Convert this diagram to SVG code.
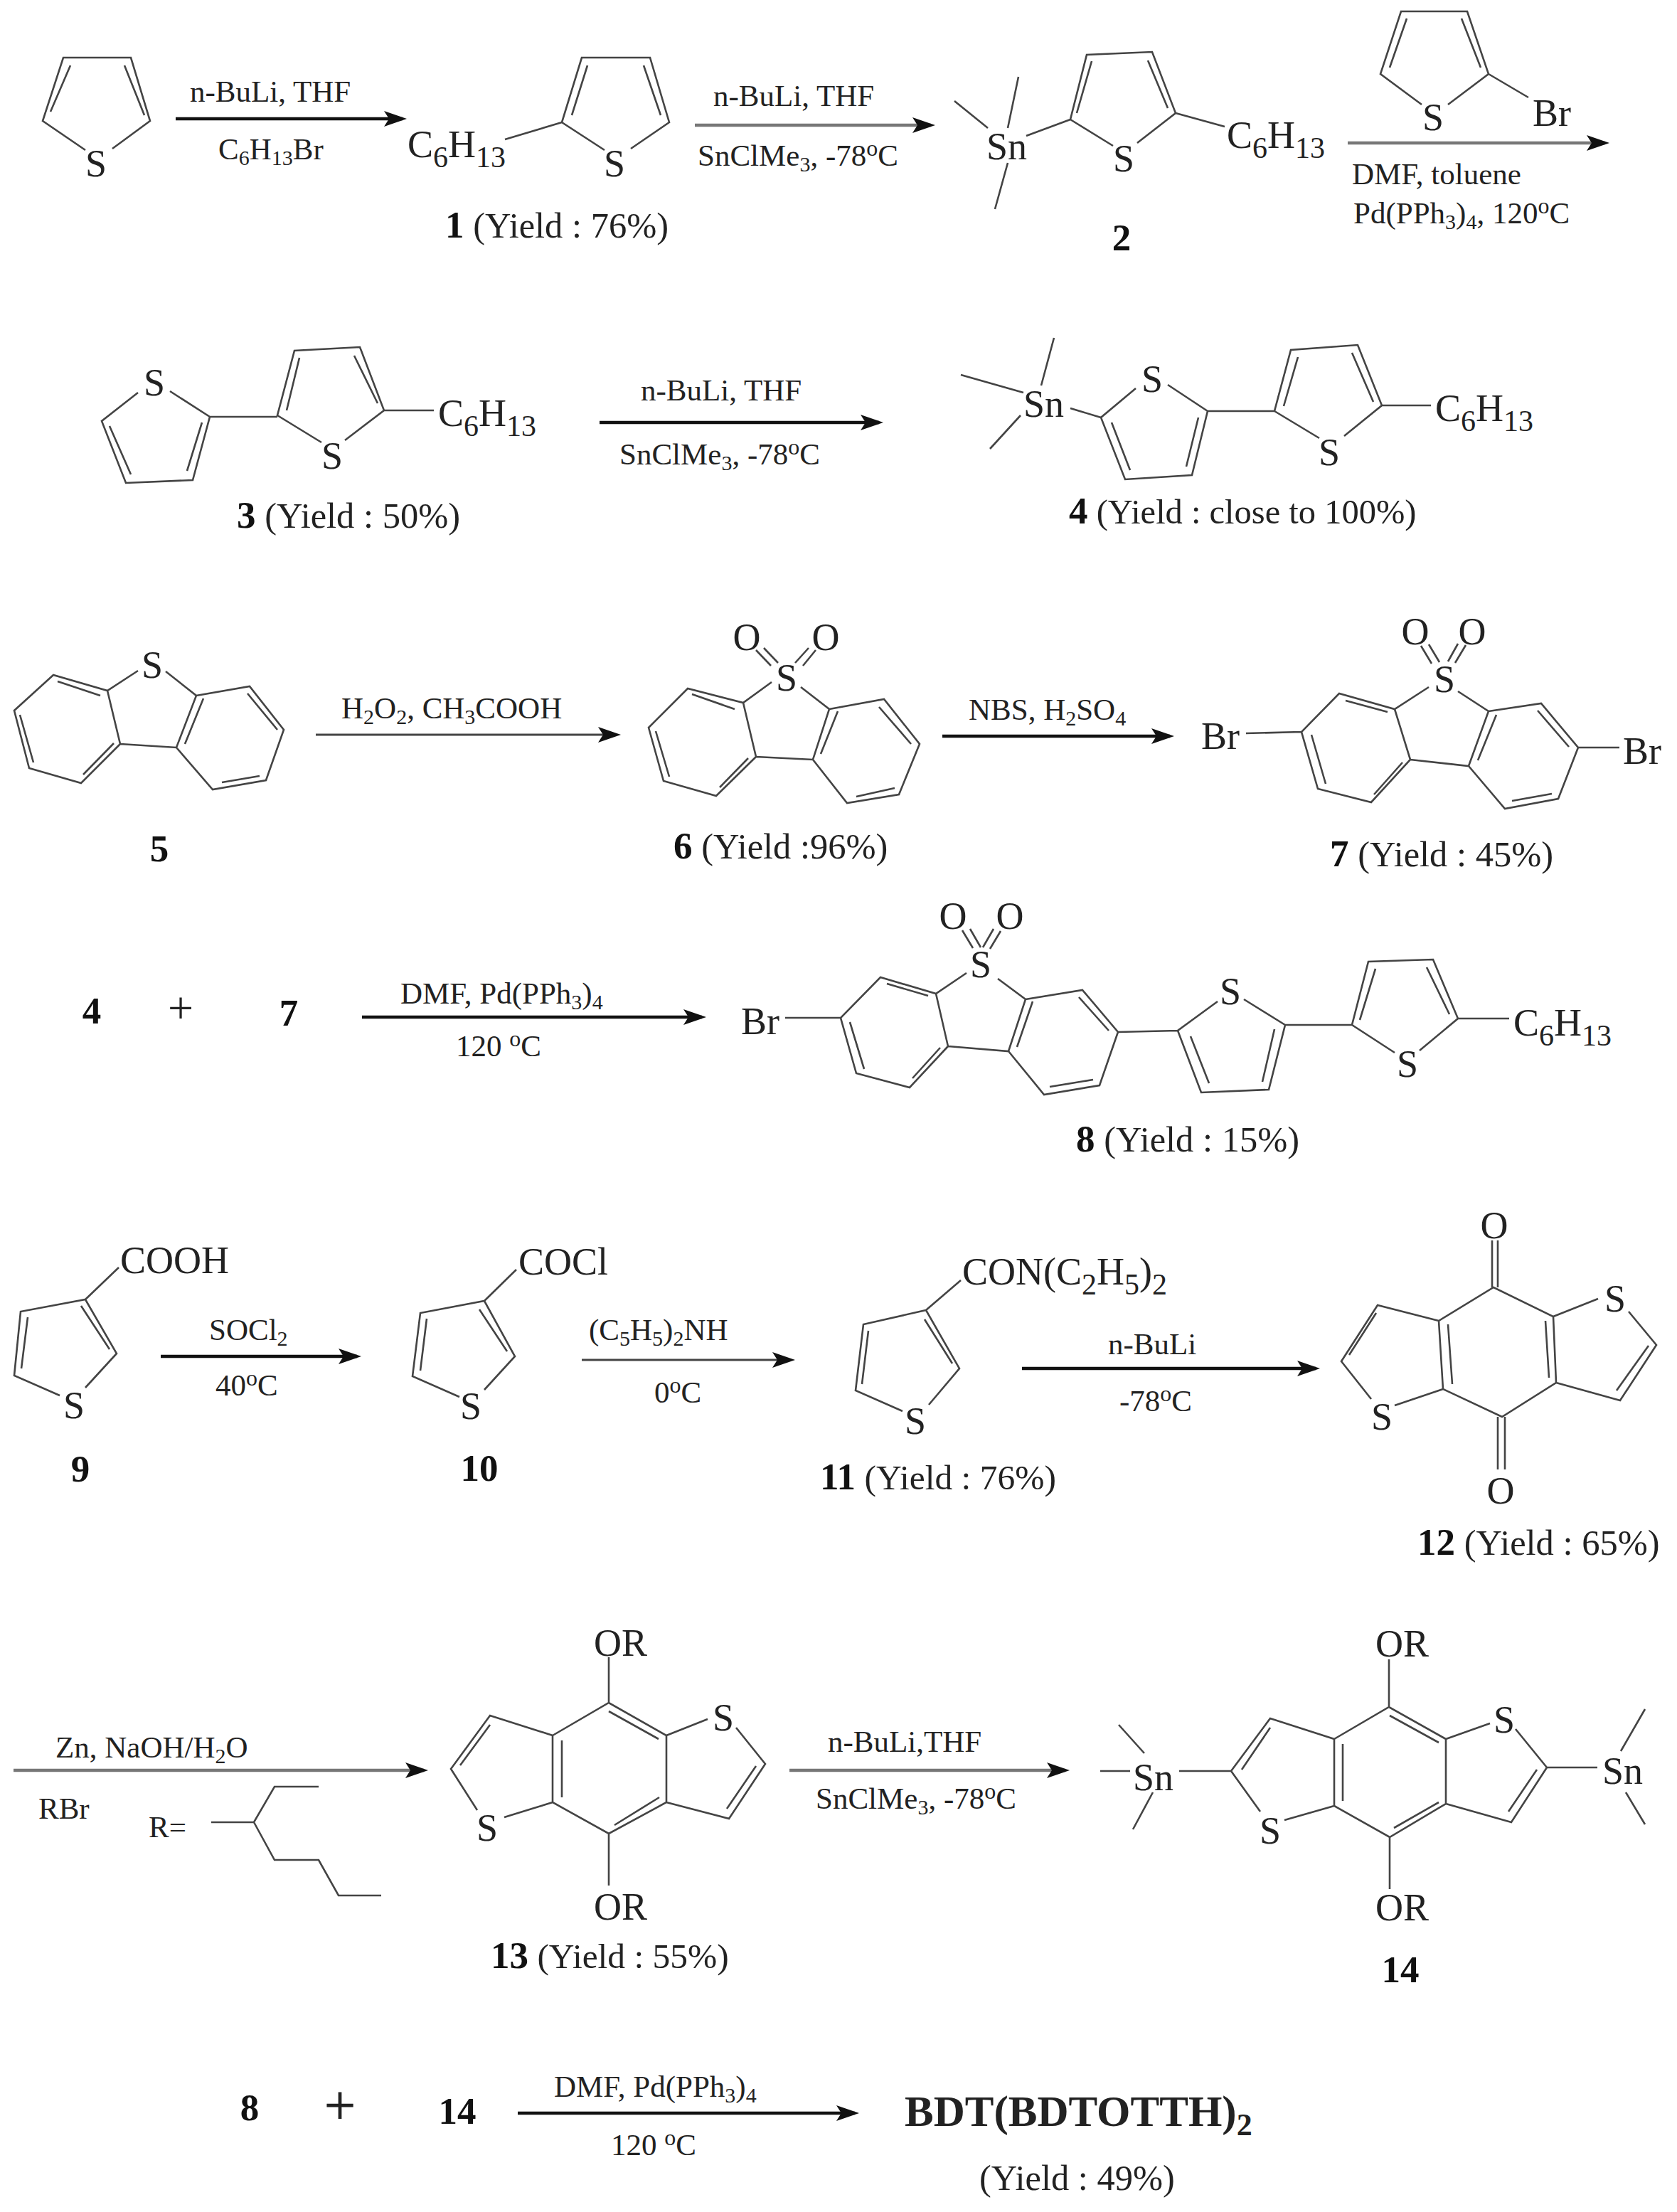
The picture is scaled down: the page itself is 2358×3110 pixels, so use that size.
<svg xmlns="http://www.w3.org/2000/svg" width="2358" height="3110" viewBox="0 0 2358 3110">
<defs>
<marker id="ah" markerUnits="userSpaceOnUse" markerWidth="34" markerHeight="24" refX="26" refY="12" orient="auto"><path d="M0,1 L32,12 L0,23 L7,12 Z" fill="#111"/></marker>
</defs>
<style>
text{font-family:"Liberation Serif","Times New Roman",serif;fill:#222}
.b{fill:none;stroke:#444;stroke-width:2.6;stroke-linejoin:miter}
.a{stroke:#444;stroke-width:3;fill:none}
.k{stroke:#111;stroke-width:4.5;fill:none}
.g{stroke:#777;stroke-width:4.5;fill:none}
.r{font-size:43px}
.rs{font-size:30px}
.rp{font-size:32px}
.l{font-size:54px}
.m{text-anchor:middle}
.ls{font-size:42px}
.y{font-size:50.5px}
.n{font-weight:bold;font-size:53px;fill:#111}
.p{font-size:64px}
</style>
<rect width="2358" height="3110" fill="#fff"/>

<g id="connectors">
<line class="k" x1="247" y1="167" x2="566" y2="167" marker-end="url(#ah)"/>
<line class="g" x1="977" y1="176" x2="1309" y2="176" marker-end="url(#ah)"/>
<line class="g" x1="1895" y1="201" x2="2257" y2="201" marker-end="url(#ah)"/>
<line class="k" x1="843" y1="594" x2="1236" y2="594" marker-end="url(#ah)"/>
<line class="a" x1="444" y1="1033" x2="867" y2="1033" marker-end="url(#ah)"/>
<line class="k" x1="1325" y1="1035" x2="1645" y2="1035" marker-end="url(#ah)"/>
<line class="k" x1="509" y1="1430" x2="987" y2="1430" marker-end="url(#ah)"/>
<line class="k" x1="226" y1="1907" x2="502" y2="1907" marker-end="url(#ah)"/>
<line class="a" x1="818" y1="1912" x2="1112" y2="1912" marker-end="url(#ah)"/>
<line class="k" x1="1437" y1="1924" x2="1850" y2="1924" marker-end="url(#ah)"/>
<line class="g" x1="19" y1="2489" x2="596" y2="2489" marker-end="url(#ah)"/>
<line class="g" x1="1110" y1="2489" x2="1498" y2="2489" marker-end="url(#ah)"/>
<line class="k" x1="728" y1="2971" x2="1202" y2="2971" marker-end="url(#ah)"/>
</g>

<g id="reagents">
<text class="r" x="267" y="143">n-BuLi, THF</text>
<text class="r" x="307" y="224">C<tspan class="rs" dy="8">6</tspan><tspan dy="-8">H</tspan><tspan class="rs" dy="8">13</tspan><tspan dy="-8">Br</tspan></text>
<text class="r" x="1003" y="149">n-BuLi, THF</text>
<text class="r" x="981" y="233">SnClMe<tspan class="rs" dy="8">3</tspan><tspan dy="-8">, -78</tspan><tspan class="rp" dy="-14">o</tspan><tspan dy="14">C</tspan></text>
<text class="r" x="1901" y="259">DMF, toluene</text>
<text class="r" x="1903" y="314">Pd(PPh<tspan class="rs" dy="8">3</tspan><tspan dy="-8">)</tspan><tspan class="rs" dy="8">4</tspan><tspan dy="-8">, 120</tspan><tspan class="rp" dy="-14">o</tspan><tspan dy="14">C</tspan></text>
<text class="r" x="901" y="563">n-BuLi, THF</text>
<text class="r" x="871" y="653">SnClMe<tspan class="rs" dy="8">3</tspan><tspan dy="-8">, -78</tspan><tspan class="rp" dy="-14">o</tspan><tspan dy="14">C</tspan></text>
<text class="r" x="480" y="1010">H<tspan class="rs" dy="8">2</tspan><tspan dy="-8">O</tspan><tspan class="rs" dy="8">2</tspan><tspan dy="-8">, CH</tspan><tspan class="rs" dy="8">3</tspan><tspan dy="-8">COOH</tspan></text>
<text class="r" x="1362" y="1012">NBS, H<tspan class="rs" dy="8">2</tspan><tspan dy="-8">SO</tspan><tspan class="rs" dy="8">4</tspan></text>
<text class="r" x="563" y="1411">DMF, Pd(PPh<tspan class="rs" dy="8">3</tspan><tspan dy="-8">)</tspan><tspan class="rs" dy="8">4</tspan></text>
<text class="r" x="641" y="1485">120 <tspan class="rp" dy="-14">o</tspan><tspan dy="14">C</tspan></text>
<text class="r" x="294" y="1884">SOCl<tspan class="rs" dy="8">2</tspan></text>
<text class="r" x="303" y="1962">40<tspan class="rp" dy="-14">o</tspan><tspan dy="14">C</tspan></text>
<text class="r" x="828" y="1884">(C<tspan class="rs" dy="8">5</tspan><tspan dy="-8">H</tspan><tspan class="rs" dy="8">5</tspan><tspan dy="-8">)</tspan><tspan class="rs" dy="8">2</tspan><tspan dy="-8">NH</tspan></text>
<text class="r" x="920" y="1972">0<tspan class="rp" dy="-14">o</tspan><tspan dy="14">C</tspan></text>
<text class="r" x="1558" y="1904">n-BuLi</text>
<text class="r" x="1574" y="1984">-78<tspan class="rp" dy="-14">o</tspan><tspan dy="14">C</tspan></text>
<text class="r" x="78" y="2471">Zn, NaOH/H<tspan class="rs" dy="8">2</tspan><tspan dy="-8">O</tspan></text>
<text class="r" x="54" y="2557">RBr</text>
<text class="r" x="1164" y="2463">n-BuLi,THF</text>
<text class="r" x="1147" y="2543">SnClMe<tspan class="rs" dy="8">3</tspan><tspan dy="-8">, -78</tspan><tspan class="rp" dy="-14">o</tspan><tspan dy="14">C</tspan></text>
<text class="r" x="779" y="2948">DMF, Pd(PPh<tspan class="rs" dy="8">3</tspan><tspan dy="-8">)</tspan><tspan class="rs" dy="8">4</tspan></text>
<text class="r" x="859" y="3030">120 <tspan class="rp" dy="-14">o</tspan><tspan dy="14">C</tspan></text>
</g>

<g id="thiophene">
<path class="b" d="M120,211L60,170L89,81H184L211,170L158,209M99,92L71,157M175,92L203,162"/>
<text class="l m" x="135" y="248">S</text>
</g>

<g id="compound-1">
<path class="b" d="M850,211L790,172L818,81H914L941,172L887,209M826,92L804,162M905,92L929,162M790,172L710,196"/>
<text class="l m" x="864" y="248">S</text>
<text class="l" x="573" y="221">C<tspan class="ls" dy="14">6</tspan><tspan dy="-14">H</tspan><tspan class="ls" dy="14">13</tspan></text>
<text class="y" x="626" y="334"><tspan class="n">1</tspan> (Yield : 76%)</text>
</g>

<g id="compound-2">
<path class="b" d="M1565,205L1505,168L1528,77L1620,73L1653,159L1599,201M1535,86L1514,159M1614,85L1642,152M1653,159L1722,178M1505,168L1443,191M1342,142L1389,180M1432,108L1417,180M1417,229L1399,294"/>
<text class="l m" x="1580" y="241">S</text>
<text class="l" x="1725" y="208">C<tspan class="ls" dy="14">6</tspan><tspan dy="-14">H</tspan><tspan class="ls" dy="14">13</tspan></text>
<text class="l" x="1387" y="224">Sn</text>
<text class="n m" x="1577" y="352">2</text>
</g>

<g id="bromothiophene">
<path class="b" d="M1999,147L1941,104L1970,16H2063L2093,104L2036,147M1978,26L1954,95M2055,26L2082,95M2093,104L2149,137"/>
<text class="l m" x="2015" y="183">S</text>
<text class="l" x="2155" y="177">Br</text>
</g>

<g id="compound-3">
<path class="b" d="M194,552L143,592L177,679L271,675L295,586L239,550M154,599L184,667M284,594L263,662M295,586H390M452,622L390,584L414,493L506,488L540,577L485,619M403,577L421,503M498,500L531,567M540,577H610"/>
<text class="l m" x="217" y="556">S</text>
<text class="l m" x="467" y="659">S</text>
<text class="l" x="616" y="599">C<tspan class="ls" dy="14">6</tspan><tspan dy="-14">H</tspan><tspan class="ls" dy="14">13</tspan></text>
<text class="y" x="333" y="742"><tspan class="n">3</tspan> (Yield : 50%)</text>
</g>

<g id="compound-4">
<path class="b" d="M1482,475L1464,542M1351,527L1439,552M1435,584L1392,631M1505,574L1548,587M1597,546L1548,587L1582,674L1676,668L1698,578L1642,541M1563,594L1589,661M1685,587L1668,656M1698,578H1792M1855,616L1792,578L1815,492L1909,485L1943,570L1890,613M1805,571L1825,502M1901,496L1931,565M1943,570H2012"/>
<text class="l" x="1439" y="586">Sn</text>
<text class="l m" x="1620" y="551">S</text>
<text class="l m" x="1869" y="654">S</text>
<text class="l" x="2018" y="592">C<tspan class="ls" dy="14">6</tspan><tspan dy="-14">H</tspan><tspan class="ls" dy="14">13</tspan></text>
<text class="y" x="1503" y="736" style="font-size:48.5px"><tspan class="n">4</tspan> (Yield : close to 100%)</text>
</g>

<g id="compound-5">
<path class="b" d="M194,943L151,971L75,949L20,999L41,1080L114,1101L169,1046L151,971M169,1046L248,1051L276,978L233,944M276,978L351,965L399,1026L374,1097L299,1110L248,1051M81,958L141,978M28,1005L47,1072M117,1089L160,1045M286,982L260,1046M348,975L390,1026M312,1100L365,1091"/>
<text class="l m" x="214" y="953">S</text>
<text class="n m" x="224" y="1211">5</text>
</g>

<g id="compound-6">
<path class="b" d="M1085,959L1045,988L967,968L912,1023L933,1098L1007,1119L1063,1064L1045,988M1063,1064L1143,1068L1166,997L1126,966M1166,997L1243,983L1293,1046L1264,1117L1191,1129L1143,1068M973,976L1033,997M922,1028L941,1092M1012,1107L1052,1066M1178,1000L1154,1060M1236,994L1281,1046M1204,1120L1258,1108M1074,911L1094,932M1063,914L1084,936M1137,911L1118,932M1147,914L1129,936"/>
<text class="l m" x="1106" y="971">S</text>
<text class="l m" x="1050" y="914">O</text>
<text class="l m" x="1161" y="914">O</text>
<text class="y" x="947" y="1207"><tspan class="n">6</tspan> (Yield :96%)</text>
</g>

<g id="compound-7">
<path class="b" d="M2009,966L1961,997L1883,975L1830,1029L1853,1109L1928,1128L1983,1068L1961,997M1983,1068L2065,1077L2093,1000L2050,972M2093,1000L2167,989L2219,1051L2191,1123L2116,1137L2065,1077M1892,985L1951,1001M1844,1033L1864,1102M1932,1117L1972,1072M2104,1005L2078,1069M2162,999L2206,1050M2126,1126L2182,1116M1752,1031L1830,1029M2219,1051L2277,1051M1998,908L2013,933M2009,906L2024,931M2061,907L2046,932M2050,905L2036,930"/>
<text class="l m" x="2031" y="973">S</text>
<text class="l m" x="1990" y="906">O</text>
<text class="l m" x="2070" y="906">O</text>
<text class="l" x="1689" y="1053">Br</text>
<text class="l" x="2282" y="1074">Br</text>
<text class="y" x="1870" y="1218"><tspan class="n">7</tspan> (Yield : 45%)</text>
</g>

<g id="reactants-4-7">
<text class="n m" x="129" y="1439">4</text>
<text class="p m" x="254" y="1439">+</text>
<text class="n m" x="406" y="1442">7</text>
</g>

<g id="compound-8">
<path class="b" d="M1104,1431H1182M1359,1368L1316,1397L1238,1374L1182,1431L1204,1509L1279,1529L1333,1471L1316,1397M1333,1471L1418,1478L1442,1405L1403,1376M1442,1405L1522,1392L1572,1451L1546,1526L1468,1539L1418,1478M1247,1383L1305,1400M1195,1437L1215,1503M1283,1516L1322,1473M1452,1408L1430,1472M1517,1402L1559,1449M1476,1528L1537,1518M1353,1308L1368,1333M1364,1306L1379,1332M1407,1309L1392,1334M1397,1306L1382,1332M1572,1451L1656,1449M1712,1408L1656,1449L1689,1536L1784,1532L1807,1441L1749,1405M1674,1457L1700,1523M1792,1447L1775,1521M1807,1441H1901M1961,1480L1901,1441L1924,1352L2015,1349L2050,1432L1996,1477M1912,1434L1934,1362M2006,1360L2038,1426M2050,1432H2122"/>
<text class="l" x="1042" y="1454">Br</text>
<text class="l m" x="1379" y="1374">S</text>
<text class="l m" x="1340" y="1306">O</text>
<text class="l m" x="1420" y="1306">O</text>
<text class="l m" x="1730" y="1412">S</text>
<text class="l m" x="1979" y="1514">S</text>
<text class="l" x="2128" y="1456">C<tspan class="ls" dy="14">6</tspan><tspan dy="-14">H</tspan><tspan class="ls" dy="14">13</tspan></text>
<text class="y" x="1513" y="1619"><tspan class="n">8</tspan> (Yield : 15%)</text>
</g>

<g id="compound-9">
<path class="b" d="M84,1962L20,1934L29,1844L120,1827L164,1903L120,1951M114,1836L154,1897M39,1852L30,1924M120,1827L167,1782"/>
<text class="l m" x="104" y="1994">S</text>
<text class="l" x="169" y="1790">COOH</text>
<text class="n m" x="113" y="2083">9</text>
</g>

<g id="compound-10">
<path class="b" d="M646,1964L580,1935L591,1846L681,1829L724,1907L681,1954M674,1841L713,1900M600,1854L591,1927M681,1829L726,1785"/>
<text class="l m" x="662" y="1995">S</text>
<text class="l" x="729" y="1792">COCl</text>
<text class="n m" x="674" y="2082">10</text>
</g>

<g id="compound-11">
<path class="b" d="M1269,1984L1203,1955L1214,1862L1302,1842L1349,1924L1306,1975M1300,1855L1339,1917M1221,1871L1212,1946M1302,1842L1351,1800"/>
<text class="l m" x="1287" y="2016">S</text>
<text class="l" x="1353" y="1806">CON(C<tspan class="ls" dy="14">2</tspan><tspan dy="-14">H</tspan><tspan class="ls" dy="14">5</tspan><tspan dy="-14">)</tspan><tspan class="ls" dy="14">2</tspan></text>
<text class="y" x="1153" y="2094" style="font-size:49.5px"><tspan class="n">11</tspan> (Yield : 76%)</text>
</g>

<g id="compound-12">
<path class="b" d="M2023,1857L2100,1810L2184,1851L2188,1944L2112,1992L2029,1953L2023,1857L1937,1835L1886,1914L1928,1967M1961,1976L2029,1953M1935,1846L1897,1905M2184,1851L2247,1826M2290,1844L2329,1891L2278,1969L2188,1944M2318,1892L2273,1955M2036,1862L2042,1946M2173,1857L2178,1937M2098,1810V1744M2106,1810V1744M2106,1992V2066M2116,1992V2066"/>
<text class="l m" x="1943" y="2010">S</text>
<text class="l m" x="2271" y="1844">S</text>
<text class="l m" x="2101" y="1741">O</text>
<text class="l m" x="2110" y="2114">O</text>
<text class="y" x="1993" y="2186"><tspan class="n">12</tspan> (Yield : 65%)</text>
</g>

<g id="r-group">
<text class="r" x="209" y="2583">R=</text>
<path class="b" d="M297,2562H357L386,2512H448M357,2562L386,2615H448L476,2665H536"/>
</g>

<g id="compound-13">
<path class="b" d="M777,2440L856,2394L937,2440V2534L856,2578L777,2534V2440L689,2412L634,2487L671,2545M709,2555L777,2534M689,2425L647,2482M937,2440L995,2417M1035,2429L1076,2480L1025,2557L937,2534M1063,2483L1022,2543M790,2447V2527M856,2406L926,2445M864,2566L927,2527M856,2394V2330M856,2578V2651"/>
<text class="l m" x="685" y="2588">S</text>
<text class="l m" x="1017" y="2433">S</text>
<text class="l" x="835" y="2328">OR</text>
<text class="l" x="835" y="2699">OR</text>
<text class="y" x="690" y="2767" style="font-size:49.5px"><tspan class="n">13</tspan> (Yield : 55%)</text>
</g>

<g id="compound-14">
<path class="b" d="M1876,2445L1953,2400L2033,2445V2536L1954,2583L1876,2539V2445L1786,2416L1731,2490L1772,2547M1806,2559L1876,2539M1786,2429L1746,2488M2033,2445L2095,2423M2131,2431L2175,2485L2125,2562L2033,2536M2161,2488L2121,2547M1888,2452V2532M1954,2412L2023,2450M1960,2570L2023,2534M1953,2400V2333M1954,2583V2656M1658,2490H1731M1547,2490H1589M1573,2425L1609,2465M1621,2520L1593,2572M2175,2485H2246M2313,2403L2279,2462M2286,2520L2313,2565"/>
<text class="l m" x="1786" y="2592">S</text>
<text class="l m" x="2115" y="2436">S</text>
<text class="l" x="1593" y="2517">Sn</text>
<text class="l" x="2253" y="2508">Sn</text>
<text class="l" x="1934" y="2329">OR</text>
<text class="l" x="1934" y="2700">OR</text>
<text class="n m" x="1969" y="2787">14</text>
</g>

<g id="reactants-8-14">
<text class="n m" x="351" y="2981">8</text>
<text class="m" x="478" y="2986" font-size="78" stroke="#222" stroke-width="0.8">+</text>
<text class="n m" x="643" y="2986">14</text>
</g>

<g id="product">
<text x="1272" y="2989" font-size="61" font-weight="bold" fill="#111">BDT(BDTOTTH)<tspan font-size="44" dy="13">2</tspan></text>
<text class="y" x="1377" y="3079">(Yield : 49%)</text>
</g>
</svg>
